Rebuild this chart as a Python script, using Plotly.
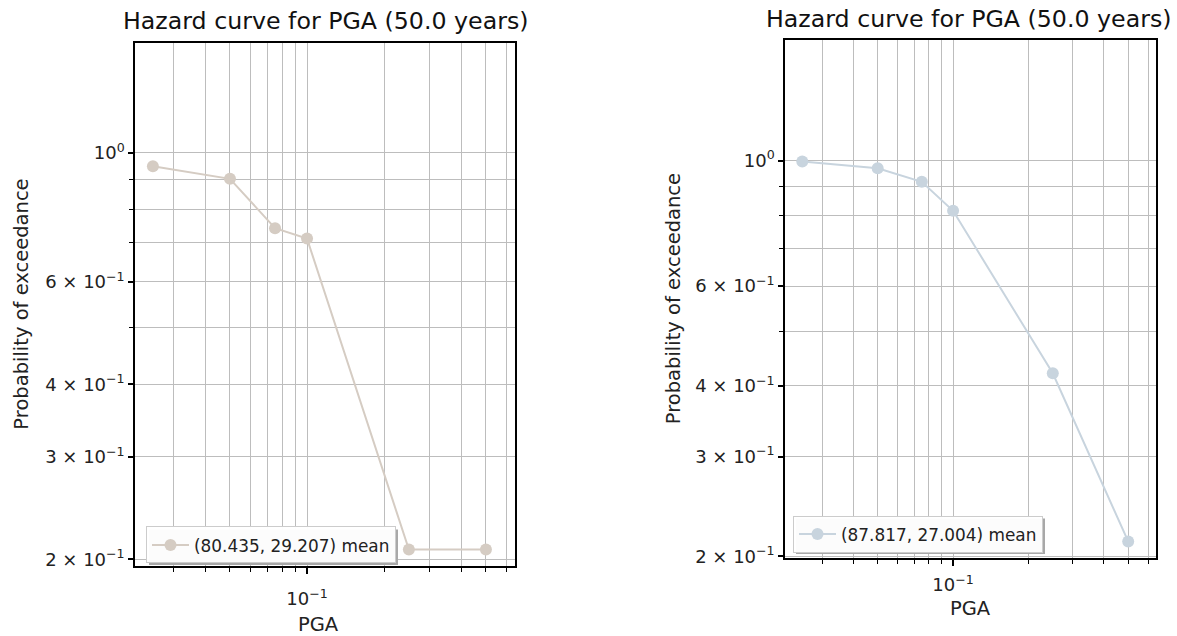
import plotly.graph_objects as go

# ---- data ----
pga = [0.025, 0.05, 0.075, 0.1, 0.25, 0.5]
poe_left = [0.948, 0.902, 0.742, 0.712, 0.208, 0.208]
poe_right = [0.996, 0.969, 0.917, 0.815, 0.421, 0.2126]
name_left = "(80.435, 29.207) mean"
name_right = "(87.817, 27.004) mean"
title_text = "Hazard curve for PGA (50.0 years)"
x_label = "PGA"
y_label = "Probability of exceedance"

x_major = [0.1]
x_major_text = ["10<sup>−1</sup>"]
x_minor = [0.03, 0.04, 0.05, 0.06, 0.07, 0.08, 0.09, 0.2, 0.3, 0.4, 0.5, 0.6]
y_major = [0.2, 0.3, 0.4, 0.6, 1.0]
y_major_text = ["2 × 10<sup>−1</sup>", "3 × 10<sup>−1</sup>", "4 × 10<sup>−1</sup>",
                "6 × 10<sup>−1</sup>", "10<sup>0</sup>"]
y_minor = [0.5, 0.7, 0.8, 0.9]

W, H = 1177, 636
FONT = "DejaVu Sans"
GRID = "#bdbdbd"
col_left = "#d5ccc3"
col_right = "#c8d4de"


def px(x):
    return x / W


def py(y):
    return 1 - y / H


fig = go.Figure()
fig.add_trace(go.Scatter(x=pga, y=poe_left, mode="lines+markers", name=name_left,
                         line=dict(color=col_left, width=2),
                         marker=dict(color=col_left, size=12),
                         xaxis="x", yaxis="y", legend="legend"))
fig.add_trace(go.Scatter(x=pga, y=poe_right, mode="lines+markers", name=name_right,
                         line=dict(color=col_right, width=2),
                         marker=dict(color=col_right, size=12),
                         xaxis="x2", yaxis="y2", legend="legend2"))


def xaxis(dom, rng, anchor, standoff):
    return dict(type="log", domain=dom, range=rng, anchor=anchor,
                showline=True, mirror=True, linecolor="black", linewidth=1.5,
                showgrid=True, gridcolor=GRID, gridwidth=1.2,
                tickmode="array", tickvals=x_major, ticktext=x_major_text,
                ticks="outside", ticklen=6, tickwidth=1.5, tickcolor="black",
                ticklabelstandoff=standoff,
                tickfont=dict(family=FONT, size=18, color="#222"),
                minor=dict(tickmode="array", tickvals=x_minor, ticks="outside",
                           ticklen=4, tickwidth=1.2, tickcolor="black",
                           showgrid=True, gridcolor=GRID, gridwidth=1.2),
                zeroline=False)


def yaxis(dom, rng, anchor):
    return dict(type="log", domain=dom, range=rng, anchor=anchor,
                showline=True, mirror=True, linecolor="black", linewidth=1.5,
                showgrid=True, gridcolor=GRID, gridwidth=1.2,
                tickmode="array", tickvals=y_major, ticktext=y_major_text,
                ticks="outside", ticklen=5, tickwidth=1.5, tickcolor="black",
                tickfont=dict(family=FONT, size=18, color="#222"),
                minor=dict(tickmode="array", tickvals=y_minor, ticks="outside",
                           ticklen=4, tickwidth=1.2, tickcolor="black",
                           showgrid=True, gridcolor=GRID, gridwidth=1.2),
                zeroline=False)


# plot box pixel positions (left, right, top, bottom)
L1 = (135, 515, 44, 574)
L2 = (785, 1156, 41, 566)

LEG_FONT = 16.9
fig.update_layout(
    width=W, height=H, margin=dict(l=0, r=0, t=0, b=0),
    paper_bgcolor="white", plot_bgcolor="white",
    font=dict(family=FONT, color="#222"),
    xaxis=xaxis([px(L1[0]), px(L1[1])], [-1.672, -0.1875], "y", 10),
    yaxis=yaxis([py(L1[3]), py(L1[2])], [-0.710, 0.188], "x"),
    xaxis2=xaxis([px(L2[0]), px(L2[1])], [-1.671, -0.190], "y2", 4),
    yaxis2=yaxis([py(L2[3]), py(L2[2])], [-0.7017, 0.212], "x2"),
    legend=dict(x=px(146), y=py(534), xanchor="left", yanchor="top",
                bgcolor="rgba(255,255,255,0.97)", bordercolor="#cccccc", borderwidth=1,
                font=dict(family=FONT, size=LEG_FONT, color="#222"), itemwidth=37),
    legend2=dict(x=px(793), y=py(523), xanchor="left", yanchor="top",
                 bgcolor="rgba(255,255,255,0.97)", bordercolor="#cccccc", borderwidth=1,
                 font=dict(family=FONT, size=LEG_FONT, color="#222"), itemwidth=37),
    showlegend=True,
)

# legend shadows (offset copies of the legend box)
LW, LH = 249, 36
for (x0, y0) in [(146, 534), (793, 523)]:
    fig.add_shape(type="rect", xref="paper", yref="paper",
                  x0=px(x0 + 3), x1=px(x0 + LW + 3), y0=py(y0 + LH + 3), y1=py(y0 + 3),
                  line=dict(width=0), fillcolor="#a8a8a8", layer="above")

ann = []
for cx, cy in [(325, 21.5), (968, 19)]:
    ann.append(dict(text=title_text, x=px(cx), y=py(cy), xref="paper", yref="paper",
                    showarrow=False, xanchor="center", yanchor="middle",
                    font=dict(family=FONT, size=23.7, color="#111")))
for cx, cy in [(318, 633), (970, 617)]:
    ann.append(dict(text=x_label, x=px(cx), y=py(cy), xref="paper", yref="paper",
                    showarrow=False, xanchor="center", yanchor="middle",
                    font=dict(family=FONT, size=19.5, color="#222")))
for cx, cy in [(22, (L1[2] + L1[3]) / 2), (673, (L2[2] + L2[3]) / 2)]:
    ann.append(dict(text=y_label, x=px(cx), y=py(cy), xref="paper", yref="paper",
                    showarrow=False, xanchor="center", yanchor="middle", textangle=-90,
                    font=dict(family=FONT, size=19.5, color="#222")))
fig.update_layout(annotations=ann)

fig.write_html("out.html")
